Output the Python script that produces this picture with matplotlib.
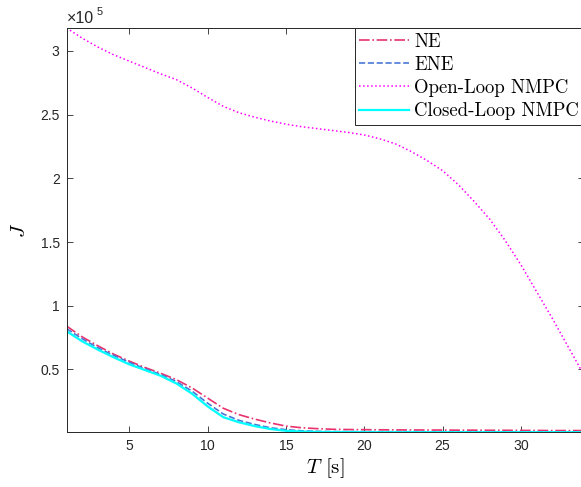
import numpy as np
import matplotlib
matplotlib.use("Agg")
import matplotlib.pyplot as plt
from matplotlib.ticker import FuncFormatter

plt.rcParams['font.family'] = 'cmr10'
plt.rcParams['mathtext.fontset'] = 'cm'
plt.rcParams['axes.formatter.use_mathtext'] = True

T = np.arange(1, 35)

J_ne = np.array([0.84, 0.755, 0.685, 0.62, 0.565, 0.515, 0.47, 0.42, 0.355, 0.275,
                 0.195, 0.145, 0.11, 0.08, 0.055, 0.042, 0.035, 0.03, 0.028, 0.027,
                 0.026, 0.025, 0.025, 0.024, 0.024, 0.023, 0.023, 0.022, 0.022, 0.021,
                 0.021, 0.02, 0.02, 0.02]) * 1e5
J_ene = np.array([0.82, 0.74, 0.67, 0.61, 0.555, 0.505, 0.46, 0.405, 0.33, 0.235,
                  0.15, 0.1, 0.068, 0.042, 0.027, 0.018, 0.014, 0.012, 0.012, 0.011,
                  0.011, 0.011, 0.011, 0.01, 0.01, 0.01, 0.01, 0.01, 0.01, 0.01,
                  0.01, 0.01, 0.01, 0.01]) * 1e5
J_ol = np.array([3.18, 3.10, 3.03, 2.97, 2.92, 2.87, 2.82, 2.775, 2.71, 2.635,
                 2.565, 2.515, 2.48, 2.45, 2.425, 2.405, 2.39, 2.375, 2.36, 2.34,
                 2.31, 2.27, 2.21, 2.14, 2.06, 1.95, 1.82, 1.68, 1.51, 1.32,
                 1.11, 0.90, 0.68, 0.46]) * 1e5
J_cl = np.array([0.80, 0.72, 0.655, 0.595, 0.54, 0.495, 0.45, 0.39, 0.31, 0.21,
                 0.125, 0.085, 0.055, 0.032, 0.018, 0.012, 0.009, 0.008, 0.008, 0.007,
                 0.007, 0.007, 0.007, 0.007, 0.007, 0.007, 0.007, 0.007, 0.007, 0.007,
                 0.007, 0.007, 0.007, 0.007]) * 1e5

labels = ['NE', 'ENE', 'Open-Loop NMPC', 'Closed-Loop NMPC']
xticks = [5, 10, 15, 20, 25, 30]
yticks = [0.5e5, 1e5, 1.5e5, 2e5, 2.5e5, 3e5]

fig = plt.figure(figsize=(5.81, 4.87), dpi=100)
ax = fig.add_axes([0.1146, 0.1125, 0.89, 0.830])

ax.plot(T, J_ne, '-.', color='#e8336e', lw=1.2, label=labels[0])
ax.plot(T, J_ene, '--', color='#4a78d8', lw=1.2, label=labels[1])
ax.plot(T, J_ol, ':', color='#ff00ff', lw=1.1, label=labels[2])
ax.plot(T, J_cl, '-', color='#00ffff', lw=1.6, label=labels[3])

ax.set_xlim(1, 34)
ax.set_ylim(J_cl.min(), J_ol.max())
ax.set_xticks(xticks)
ax.set_yticks(yticks)
ax.yaxis.set_major_formatter(FuncFormatter(lambda v, p: '%g' % (v / 1e5)))

for lab in ax.get_xticklabels() + ax.get_yticklabels():
    lab.set_fontfamily('Liberation Sans')
    lab.set_fontsize(10)
    lab.set_color('#262626')

ax.tick_params(direction='in', top=True, right=True, length=4, width=0.6,
               colors='#262626', pad=5)
for s in ax.spines.values():
    s.set_color('#262626')
    s.set_linewidth(0.7)

# exponent label, MATLAB style
ax.text(0.0, 1.006, '×10', transform=ax.transAxes, ha='left', va='bottom',
        fontsize=11.5, color='#262626', family='Liberation Sans')
ax.text(0.058, 1.026, '5', transform=ax.transAxes, ha='left', va='bottom',
        fontsize=8, color='#262626', family='Liberation Sans')

ax.set_xlabel('$T$ [s]', fontsize=15, labelpad=2)
ax.set_ylabel('$J$', fontsize=15, labelpad=8)

leg = ax.legend(loc='upper right', bbox_to_anchor=(1.0, 1.0), borderaxespad=0,
                fancybox=False, framealpha=1, edgecolor='#262626', fontsize=13.5,
                handlelength=2.65, handletextpad=0.27, borderpad=0.25,
                labelspacing=0.28)
leg.get_frame().set_linewidth(0.7)

fig.savefig('out.png', dpi=100)
